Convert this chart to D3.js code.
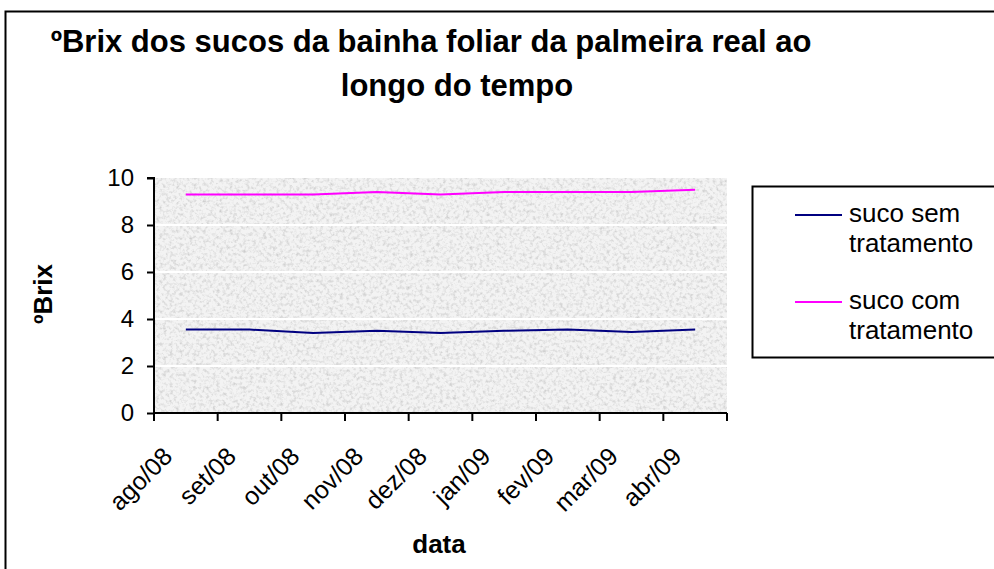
<!DOCTYPE html>
<html><head><meta charset="utf-8">
<script src="https://cdn.jsdelivr.net/npm/d3@7"></script>
<style>body{margin:0;background:#fff}svg{display:block}text{font-family:"Liberation Sans",Arial,sans-serif}</style>
</head><body>
<svg id="c" width="994" height="569"></svg>
<script>
const categories = ["ago/08","set/08","out/08","nov/08","dez/08","jan/09","fev/09","mar/09","abr/09"];
const semTratamento = [3.55,3.55,3.4,3.5,3.4,3.5,3.55,3.45,3.55];
const comTratamento = [9.3,9.3,9.3,9.4,9.3,9.4,9.4,9.4,9.5];
const yTicks = [0,2,4,6,8,10];
const seriesNames = ["suco sem tratamento","suco com tratamento"];
const titleLines = ["ºBrix dos sucos da bainha foliar da palmeira real ao","longo do tempo"];

const svg = d3.select("#c");
const defs = svg.append("defs");
const f = defs.append("filter").attr("id","noise").attr("x",0).attr("y",0).attr("width","100%").attr("height","100%");
f.append("feTurbulence").attr("type","fractalNoise").attr("baseFrequency",0.3).attr("numOctaves",3).attr("seed",7).attr("result","t");
f.append("feColorMatrix").attr("in","t").attr("type","matrix")
 .attr("values","0 0 0 0 0.6  0 0 0 0 0.6  0 0 0 0 0.6  2.1 0 0 0 -0.95");

// outer border
svg.append("rect").attr("x",5.5).attr("y",11.5).attr("width",1000).attr("height",600)
  .attr("fill","#fff").attr("stroke","#000").attr("stroke-width",2);

const L=154,R=727,T=178,B=413;
const x = d3.scaleBand().domain(categories).range([L,R]).paddingInner(0).paddingOuter(0);
const y = d3.scaleLinear().domain([0,10]).range([B,T]);

// plot background
svg.append("rect").attr("x",L).attr("y",T).attr("width",R-L).attr("height",B-T).attr("fill","#f3f3f3");
svg.append("rect").attr("x",L).attr("y",T).attr("width",R-L).attr("height",B-T).attr("filter","url(#noise)");

// gridlines
svg.append("g").selectAll("line").data(yTicks.filter(d=>d>0 && d<10)).join("line")
  .attr("x1",L).attr("x2",R).attr("y1",d=>y(d)).attr("y2",d=>y(d))
  .attr("stroke","#fff").attr("stroke-width",2);

// y axis
const ya = svg.append("g").attr("transform",`translate(${L},0)`)
  .call(d3.axisLeft(y).tickValues(yTicks).tickSize(7).tickPadding(13).tickFormat(d3.format("d")));
ya.select(".domain").attr("stroke","#000").attr("stroke-width",2).attr("d",`M-7,${T}H0V${B}`);
ya.selectAll(".tick line").attr("stroke","#000").attr("stroke-width",2);
ya.selectAll(".tick text").attr("font-size",24).attr("fill","#000").style("font-family","Liberation Sans, Arial");

// x axis
const xa = svg.append("g").attr("transform",`translate(0,${B})`)
  .call(d3.axisBottom(x).tickSize(0).tickFormat(""));
xa.select(".domain").attr("stroke","#000").attr("stroke-width",2).attr("d",`M${L},0H${R}`);
const bounds = d3.range(categories.length+1).map(i=>L+i*x.bandwidth());
xa.selectAll(".btick").data(bounds).join("line").attr("class","btick")
  .attr("x1",d=>d).attr("x2",d=>d).attr("y1",0).attr("y2",8).attr("stroke","#000").attr("stroke-width",2);
xa.selectAll(".tick text").remove();
svg.append("g").selectAll("text").data(categories).join("text")
  .attr("transform",d=>`translate(${x(d)+x.bandwidth()/2-12},${B+45}) rotate(-45)`)
  .attr("text-anchor","end").attr("font-size",25).attr("fill","#000").text(d=>d);

// lines
const line = d3.line().x((d,i)=>x(categories[i])+x.bandwidth()/2).y(d=>y(d));
const colors = ["#000080","#ff00ff"];
[semTratamento, comTratamento].forEach((s,i)=>{
  svg.append("path").datum(s).attr("d",line).attr("fill","none").attr("stroke",colors[i]).attr("stroke-width",2);
});

// titles
svg.append("text").attr("x",431).attr("y",52).attr("text-anchor","middle").attr("font-size",31).attr("font-weight","bold").text(titleLines[0]);
svg.append("text").attr("x",457).attr("y",96).attr("text-anchor","middle").attr("font-size",31).attr("font-weight","bold").text(titleLines[1]);
svg.append("text").attr("transform","translate(52,294) rotate(-90)").attr("text-anchor","middle").attr("font-size",26).attr("font-weight","bold").text("ºBrix");
svg.append("text").attr("x",439).attr("y",553).attr("text-anchor","middle").attr("font-size",26).attr("font-weight","bold").text("data");

// legend
svg.append("rect").attr("x",752.5).attr("y",186.5).attr("width",300).attr("height",171).attr("fill","#fff").attr("stroke","#000").attr("stroke-width",2);
const lg = svg.append("g");
seriesNames.forEach((n,i)=>{
  const yy = 215 + i*87;
  lg.append("line").attr("x1",795).attr("x2",842).attr("y1",yy).attr("y2",yy).attr("stroke",colors[i]).attr("stroke-width",2);
  const words = n.split(" ");
  const t = lg.append("text").attr("x",849).attr("y",yy+7).attr("font-size",26).attr("fill","#000");
  t.append("tspan").attr("x",849).text(words.slice(0,2).join(" "));
  t.append("tspan").attr("x",849).attr("dy",30).text(words.slice(2).join(" "));
});
</script>
</body></html>
